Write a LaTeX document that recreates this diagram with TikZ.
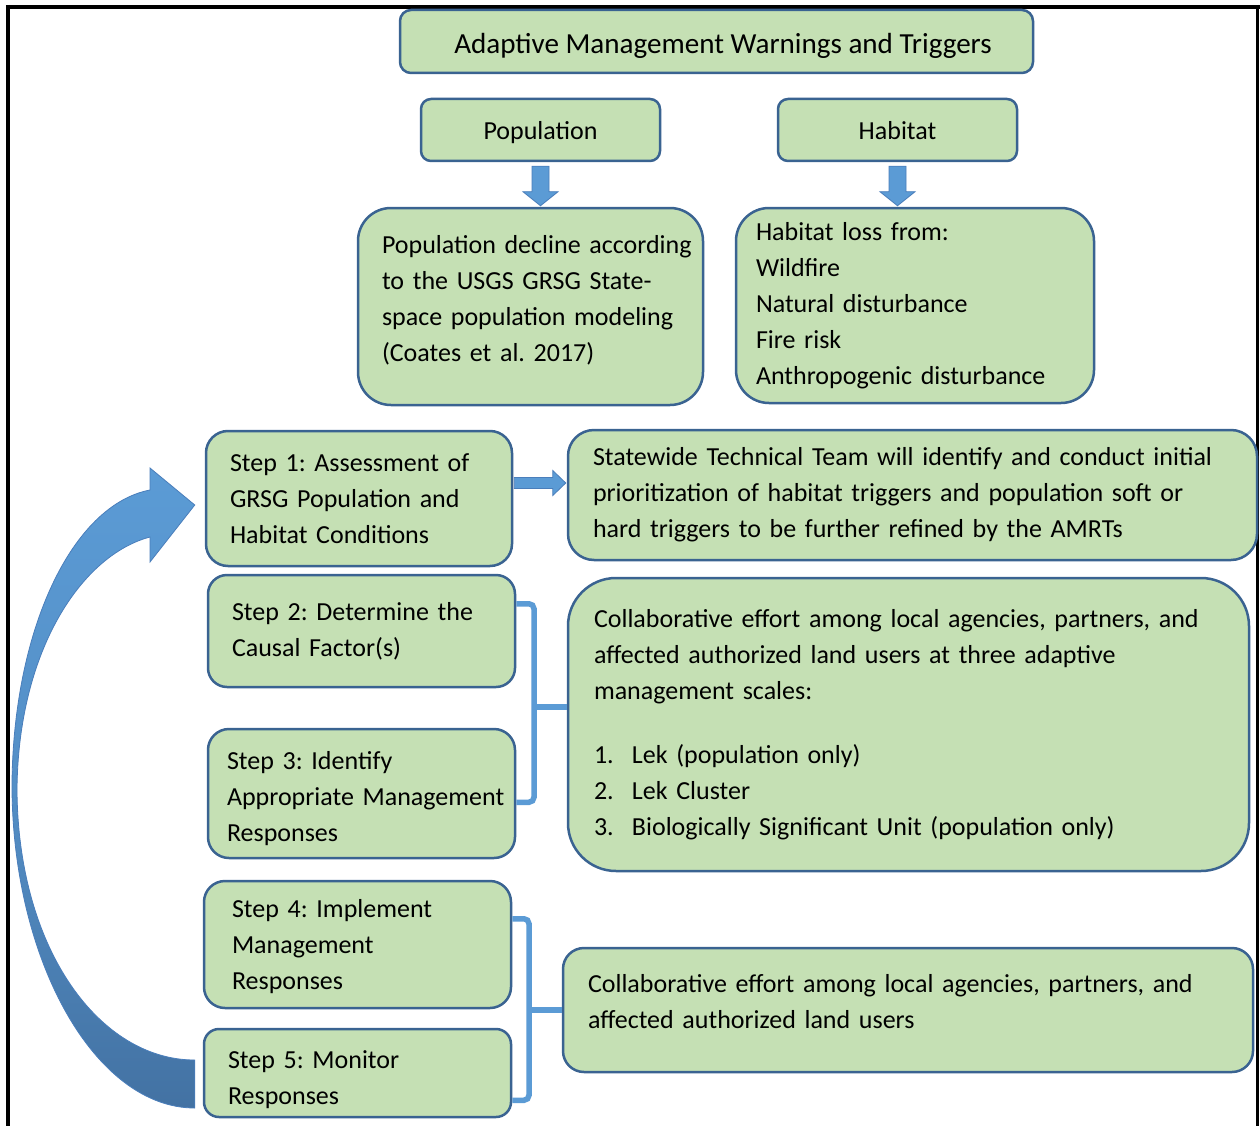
\documentclass[tikz,border=0pt]{standalone}
\usepackage{fontspec}
\setmainfont{Carlito}
\usetikzlibrary{calc}
\definecolor{boxfill}{HTML}{C5E0B4}
\definecolor{boxline}{HTML}{3A6391}
\definecolor{arrfill}{HTML}{5B9BD5}
\definecolor{arrline}{HTML}{4A7EBB}
\definecolor{arrdark}{HTML}{4372A3}
\newcommand\oneline[1]{\mbox{#1}}
\frenchspacing
\begin{document}
\begin{tikzpicture}[x=1pt,y=-1pt,
  font=\fontsize{26}{36}\selectfont\frenchspacing,
  box/.style={draw=boxline, fill=boxfill, line width=2.5pt, inner sep=0pt, align=left, text=black},
  hbox/.style={draw=boxline, fill=boxfill, line width=2.5pt, inner sep=0pt, align=center, text=black},
  barrow/.style={fill=arrfill, draw=arrline, line width=0.8pt, line join=miter},
  bracket/.style={draw=arrfill, line width=5.5pt, rounded corners=5pt}]
\useasboundingbox (0,0) rectangle (1260,1126);
\fill[white] (0,0) rectangle (1260,1126);
% frame
\draw[black, line width=4.5pt] (8,5) -- (8,1126);
\draw[black, line width=4pt] (5.75,7) -- (1260,7);
\draw[black, line width=2.5pt] (1257.5,5) -- (1257.5,1126);

% header boxes
\node[hbox, rounded corners=11pt, minimum width=633pt, minimum height=63pt, text height=26pt, text depth=1pt, font=\fontsize{29.1}{36}\selectfont] (title) at (716.5,41.5) {\hspace*{13pt}Adaptive Management Warnings and Triggers};
\node[hbox, rounded corners=10pt, minimum width=239pt, minimum height=62pt, text height=22pt, text depth=2pt] (pop) at (540.5,130) {Population};
\node[hbox, rounded corners=10pt, minimum width=239pt, minimum height=62pt, text height=22pt, text depth=2pt] (hab) at (897.5,130) {Habitat};

% detail boxes
\node[box, rounded corners=33pt, minimum width=345pt, minimum height=197pt, text width=297pt] (popd) at (530.5,306.5)
  {\oneline{Population decline according}\\\oneline{to the USGS GRSG State-}\\\oneline{space population modeling}\\\oneline{(Coates et al. 2017)}\\[-19pt]\mbox{}};
\node[box, rounded corners=33pt, minimum width=358pt, minimum height=195pt, text width=318pt] (habd) at (915,305.5)
  {\oneline{Habitat loss from:}\\\oneline{Wildfire}\\\oneline{Natural disturbance}\\\oneline{Fire risk}\\\oneline{Anthropogenic disturbance}};

% steps
\node[box, rounded corners=22pt, minimum width=306pt, minimum height=135pt, text width=258pt] (s1) at (359,498.5)
  {\oneline{Step 1: Assessment of}\\\oneline{GRSG Population and}\\\oneline{Habitat Conditions}};
\node[box, rounded corners=19pt, minimum width=307pt, minimum height=112pt, text width=259pt] (s2) at (361.5,631)
  {\oneline{Step 2: Determine the}\\\oneline{Causal Factor(s)}};
\node[box, rounded corners=21pt, minimum width=307pt, minimum height=129pt, text width=269pt] (s3) at (361.5,793.5)
  {\mbox{}\\[-8.5pt]\oneline{Step 3: Identify}\\\oneline{Appropriate Management}\\\oneline{Responses}};
\node[box, rounded corners=21pt, minimum width=307pt, minimum height=127pt, text width=251pt] (s4) at (357.5,944.5)
  {\mbox{}\\[-14pt]\oneline{Step 4: Implement}\\\oneline{Management}\\\oneline{Responses}};
\node[box, rounded corners=15pt, minimum width=307pt, minimum height=88pt, text width=259pt] (s5) at (357.5,1073)
  {\mbox{}\\[-4.5pt]\oneline{Step 5: Monitor}\\\oneline{Responses}};

% right boxes
\node[box, rounded corners=26pt, minimum width=689pt, minimum height=130pt, text width=639pt] (sw) at (912.5,495)
  {\oneline{Statewide Technical Team will identify and conduct initial}\\\oneline{prioritization of habitat triggers and population soft or}\\\oneline{hard triggers to be further refined by the AMRTs}};
\node[box, rounded corners=48pt, minimum width=681pt, minimum height=293pt, text width=629pt] (c1) at (908.5,724.5)
  {\oneline{Collaborative effort among local agencies, partners, and}\\\oneline{affected authorized land users at three adaptive}\\\oneline{management scales:}\\[28pt]
   \oneline{\makebox[38pt][l]{1.}Lek (population only)}\\\oneline{\makebox[38pt][l]{2.}Lek Cluster}\\\oneline{\makebox[38pt][l]{3.}Biologically Significant Unit (population only)}};
\node[box, rounded corners=21pt, minimum width=690pt, minimum height=124pt, text width=640pt] (c2) at (908,1010)
  {\oneline{Collaborative effort among local agencies, partners, and}\\\oneline{affected authorized land users}\\[-18pt]\mbox{}};

% down arrows
\coordinate (pa) at ($(pop.south)+(0,4)$);
\draw[barrow] ($(pa)+(-8.5,0)$) -- ($(pa |- popd.north)+(-8.5,-15)$) -- ($(pa |- popd.north)+(-17.5,-15)$) -- ($(pa |- popd.north)+(0,-1)$) -- ($(pa |- popd.north)+(17.5,-15)$) -- ($(pa |- popd.north)+(8.5,-15)$) -- ($(pa)+(8.5,0)$) -- cycle;
\coordinate (ha) at ($(hab.south)+(0,4)$);
\draw[barrow] ($(ha)+(-8.5,0)$) -- ($(ha |- habd.north)+(-8.5,-15)$) -- ($(ha |- habd.north)+(-17.5,-15)$) -- ($(ha |- habd.north)+(0,-1)$) -- ($(ha |- habd.north)+(17.5,-15)$) -- ($(ha |- habd.north)+(8.5,-15)$) -- ($(ha)+(8.5,0)$) -- cycle;

% right arrow step1 -> statewide
\coordinate (ra) at ($(s1.east)+(1,-15.5)$);
\draw[barrow] ($(ra)+(0,-5.5)$) -- ($(ra -| sw.west)+(-14,-5.5)$) -- ($(ra -| sw.west)+(-14,-12.5)$) -- ($(ra -| sw.west)+(-1,0)$) -- ($(ra -| sw.west)+(-14,12.5)$) -- ($(ra -| sw.west)+(-14,5.5)$) -- ($(ra)+(0,5.5)$) -- cycle;

% brackets
\coordinate (j1) at (534,707);
\draw[bracket] ($(s2.north east)+(0,30)$) -| (j1) |- ($(s3.south east)+(0,-57)$);
\draw[draw=arrfill, line width=5.5pt] (j1) -- (c1.west |- j1);
\coordinate (j2) at (529,1010);
\draw[bracket] ($(s4.north east)+(0,39)$) -| (j2) |- ($(s5.south east)+(0,-18)$);
\draw[draw=arrfill, line width=5.5pt] (j2) -- (c2.west |- j2);

% curved arrow from step 5 back to step 1
\path[top color=arrfill, bottom color=arrdark, middle color=arrfill!70!arrdark, draw=arrline, line width=0.8pt]
  ($(s5.west)+(-8,35)$)
  .. controls (95,1108) and (12,960) .. (12,785)
  .. controls (13,630) and (72,505) .. (150,490)
  -- (150,468) -- ($(s1.west)+(-10,6.5)$) -- (150,562) -- (150,537)
  .. controls (82,555) and (18,650) .. (17,790)
  .. controls (18,950) and (100,1060) .. ($(s5.west)+(-8,-13)$)
  -- cycle;
\end{tikzpicture}
\end{document}
